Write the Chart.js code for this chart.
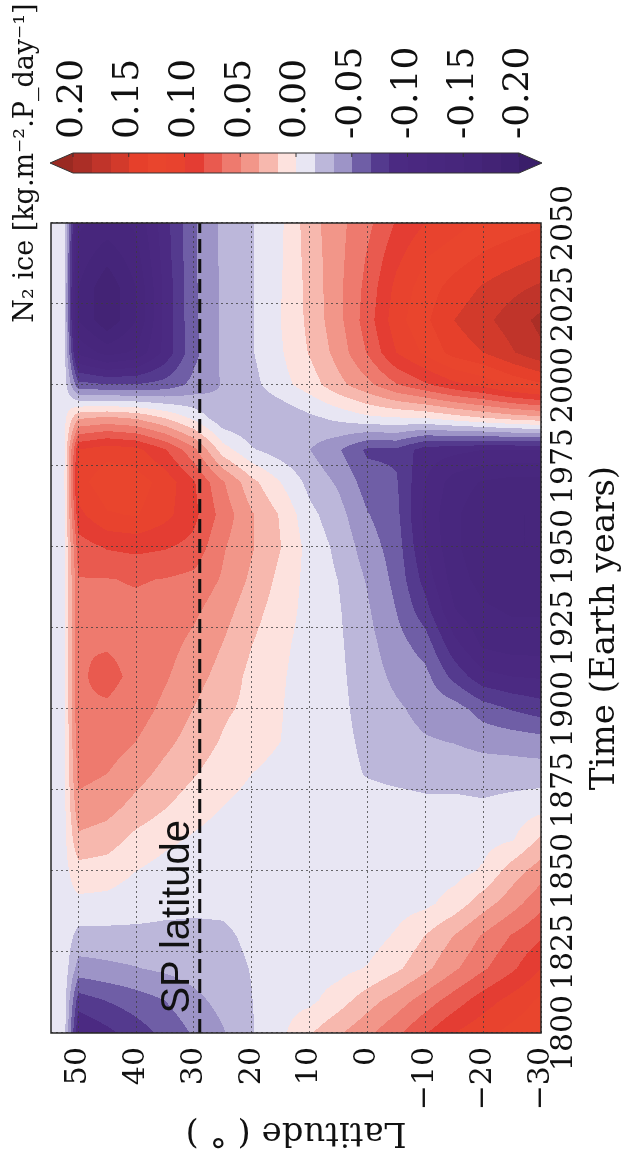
<!DOCTYPE html>
<html lang="en">
<head>
    <meta charset="UTF-8">
    <title>N2 ice</title>
    <script src="https://cdn.jsdelivr.net/npm/chart.js"></script>
    <style>
        html, body { margin: 0; padding: 0; background: #fff; overflow: hidden; }
        /* the figure is drawn landscape and turned a quarter turn to the left */
        #wrap {
            position: absolute; left: 0; top: 0; width: 1152px; height: 626px;
            transform-origin: 0 0; transform: translate(0, 1152px) rotate(-90deg);
        }
    </style>
</head>
<body>
<div id="wrap"><canvas id="diagram" width="1152" height="626"></canvas></div>
<script>
    // grid of the field: one row per latitude, one value per year
    const years = [1800, 1810, 1820, 1830, 1840, 1850, 1860, 1870, 1880, 1890, 1900, 1910, 1920,
                   1930, 1940, 1950, 1960, 1970, 1980, 1990, 2000, 2010, 2020, 2030, 2040, 2050];
    const lats = [55, 52.5, 50, 45, 40, 35, 30, 25, 20, 15, 10, 5, 0, -5, -10, -15, -20, -25, -30];

    const lat55 = [-0.005, -0.005, -0.005, -0.005, -0.005, -0.005, -0.005, -0.005, -0.005, -0.005, -0.005, -0.005, -0.005, -0.005, -0.005, -0.005, -0.005, -0.005, -0.005, -0.005, -0.005, -0.005, -0.005, -0.005, -0.005, -0.005];
    const lat52 = [-0.006, -0.006, -0.006, -0.006, -0.006, -0.006, -0.006, -0.006, -0.006, -0.006, -0.006, -0.006, -0.006, -0.006, -0.006, -0.006, -0.006, -0.006, -0.006, -0.006, -0.006, -0.006, -0.006, -0.006, -0.006, -0.006];
    const lat50 = [-0.100, -0.075, -0.040, -0.022, -0.004, 0.010, 0.030, 0.045, 0.055, 0.060, 0.065, 0.064, 0.066, 0.064, 0.066, 0.075, 0.095, 0.110, 0.100, 0.030, -0.060, -0.120, -0.150, -0.150, -0.140, -0.130];
    const lat45 = [-0.088, -0.066, -0.037, -0.022, -0.005, 0.008, 0.025, 0.040, 0.050, 0.058, 0.064, 0.072, 0.065, 0.062, 0.066, 0.085, 0.115, 0.128, 0.110, 0.035, -0.065, -0.140, -0.180, -0.180, -0.160, -0.140];
    const lat40 = [-0.075, -0.058, -0.034, -0.021, -0.009, 0.000, 0.012, 0.028, 0.040, 0.050, 0.058, 0.062, 0.062, 0.063, 0.068, 0.088, 0.118, 0.125, 0.105, 0.030, -0.065, -0.130, -0.150, -0.150, -0.140, -0.130];
    const lat35 = [-0.062, -0.050, -0.030, -0.021, -0.012, -0.006, 0.004, 0.018, 0.028, 0.038, 0.046, 0.052, 0.056, 0.060, 0.066, 0.085, 0.105, 0.110, 0.085, 0.015, -0.060, -0.095, -0.095, -0.095, -0.092, -0.090];
    const lat30 = [-0.048, -0.038, -0.026, -0.020, -0.014, -0.010, -0.002, 0.008, 0.018, 0.026, 0.033, 0.040, 0.046, 0.053, 0.062, 0.078, 0.088, 0.085, 0.055, -0.005, -0.045, -0.055, -0.053, -0.053, -0.052, -0.052];
    const lat25 = [-0.035, -0.028, -0.022, -0.019, -0.014, -0.012, -0.008, 0.000, 0.008, 0.015, 0.020, 0.027, 0.033, 0.040, 0.048, 0.052, 0.060, 0.052, 0.008, -0.030, -0.032, -0.030, -0.030, -0.030, -0.030, -0.030];
    const lat20 = [-0.018, -0.017, -0.016, -0.014, -0.012, -0.010, -0.009, -0.006, 0.000, 0.004, 0.012, 0.012, 0.017, 0.023, 0.030, 0.035, 0.035, 0.022, -0.015, -0.033, -0.022, -0.018, -0.018, -0.018, -0.018, -0.018];
    const lat15 = [-0.004, -0.006, -0.008, -0.009, -0.010, -0.008, -0.008, -0.006, -0.003, 0.000, 0.001, 0.002, 0.004, 0.008, 0.012, 0.017, 0.015, 0.000, -0.025, -0.030, -0.006, -0.002, 0.000, -0.001, -0.002, -0.003];
    const lat10 = [0.015, -0.004, -0.008, -0.008, -0.008, -0.008, -0.008, -0.008, -0.008, -0.009, -0.009, -0.008, -0.007, -0.006, -0.006, -0.006, -0.012, -0.022, -0.033, -0.020, 0.008, 0.018, 0.021, 0.022, 0.024, 0.026];
    const lat5 = [0.031, 0.009, -0.006, -0.008, -0.008, -0.008, -0.008, -0.008, -0.010, -0.011, -0.012, -0.013, -0.014, -0.015, -0.017, -0.021, -0.027, -0.036, -0.048, -0.012, 0.028, 0.040, 0.045, 0.046, 0.045, 0.045];
    const lat0 = [0.046, 0.026, 0.001, -0.008, -0.008, -0.008, -0.008, -0.008, -0.018, -0.021, -0.024, -0.026, -0.028, -0.031, -0.035, -0.042, -0.049, -0.058, -0.070, -0.003, 0.045, 0.068, 0.075, 0.072, 0.068, 0.062];
    const latS5 = [0.063, 0.041, 0.013, 0.002, -0.007, -0.008, -0.008, -0.009, -0.022, -0.028, -0.031, -0.037, -0.043, -0.050, -0.055, -0.058, -0.062, -0.065, -0.070, 0.000, 0.065, 0.100, 0.110, 0.105, 0.095, 0.085];
    const latS10 = [0.082, 0.058, 0.029, 0.017, -0.004, -0.008, -0.010, -0.012, -0.024, -0.032, -0.038, -0.045, -0.058, -0.076, -0.090, -0.100, -0.105, -0.100, -0.092, 0.002, 0.080, 0.120, 0.130, 0.125, 0.115, 0.100];
    const latS15 = [0.100, 0.075, 0.047, 0.034, 0.007, -0.006, -0.008, -0.012, -0.024, -0.034, -0.042, -0.072, -0.095, -0.115, -0.125, -0.130, -0.130, -0.125, -0.095, 0.010, 0.095, 0.140, 0.150, 0.140, 0.125, 0.110];
    const latS20 = [0.112, 0.092, 0.064, 0.052, 0.026, 0.002, -0.006, -0.014, -0.025, -0.038, -0.058, -0.095, -0.120, -0.130, -0.140, -0.145, -0.145, -0.135, -0.100, 0.018, 0.105, 0.150, 0.162, 0.152, 0.135, 0.120];
    const latS25 = [0.122, 0.106, 0.080, 0.068, 0.043, 0.025, -0.002, -0.010, -0.025, -0.040, -0.068, -0.100, -0.125, -0.135, -0.145, -0.150, -0.150, -0.140, -0.100, 0.025, 0.120, 0.165, 0.175, 0.162, 0.142, 0.125];
    const latS30 = [0.130, 0.120, 0.100, 0.081, 0.062, 0.042, 0.019, -0.006, -0.025, -0.043, -0.075, -0.102, -0.125, -0.135, -0.145, -0.150, -0.150, -0.140, -0.100, 0.030, 0.130, 0.180, 0.188, 0.170, 0.150, 0.130];

    const field = [lat55, lat52, lat50, lat45, lat40, lat35, lat30, lat25, lat20, lat15, lat10,
                   lat5, lat0, latS5, latS10, latS15, latS20, latS25, latS30];

    const spLatitude = 29;
    const cbarTicks = [0.20, 0.15, 0.10, 0.05, 0.00, -0.05, -0.10, -0.15, -0.20];
    const subLevels = 3;
    // fill colours, lowest level first
    const levelColors = [
        "#3f2172", "#432375", "#45257a", "#47267c", "#48277e", "#4a2880",
        "#4b2a82", "#543a8e", "#6f5ea6", "#9d94c7", "#bcb7da", "#e8e6f3",
        "#fde2de", "#f7b8ae", "#f29689", "#ee7a6e", "#e95a4f", "#e43d33",
        "#e8432e", "#e9452d", "#e6402b", "#d23a2b", "#c0342a", "#ab2e26"
    ];
    const underColor = "#3a1e6a";
    const overColor = "#9a2a22";

    const levels = [];
    const asc = cbarTicks.slice().sort((a, b) => a - b);
    for (let i = 0; i < asc.length - 1; i++) {
        for (let k = 0; k < subLevels; k++) levels.push(asc[i] + (asc[i + 1] - asc[i]) * k / subLevels);
    }
    levels.push(asc[asc.length - 1]);

    const serif = "'DejaVu Serif', serif";

    function hexRgb(c) {
        return [parseInt(c.slice(1, 3), 16), parseInt(c.slice(3, 5), 16), parseInt(c.slice(5, 7), 16)];
    }

    function sample(yr, lat) {
        let c = 0;
        while (c < years.length - 2 && years[c + 1] < yr) c++;
        let r = 0;
        while (r < lats.length - 2 && lats[r + 1] > lat) r++;
        const tx = Math.min(1, Math.max(0, (yr - years[c]) / (years[c + 1] - years[c])));
        const ty = Math.min(1, Math.max(0, (lats[r] - lat) / (lats[r] - lats[r + 1])));
        const a = field[r][c] * (1 - tx) + field[r][c + 1] * tx;
        const b = field[r + 1][c] * (1 - tx) + field[r + 1][c + 1] * tx;
        return a * (1 - ty) + b * ty;
    }

    function colorFor(v) {
        if (v < levels[0]) return underColor;
        if (v >= levels[levels.length - 1]) return overColor;
        let k = 0;
        while (v >= levels[k + 1]) k++;
        return levelColors[k];
    }

    const fieldPlugin = {
        id: 'field',
        beforeDraw(chart) {
            const {ctx, chartArea: area, scales: {x, y}} = chart;
            const w = Math.round(area.right - area.left);
            const h = Math.round(area.bottom - area.top);
            const off = document.createElement('canvas');
            off.width = w;
            off.height = h;
            const octx = off.getContext('2d');
            const img = octx.createImageData(w, h);
            const colYears = [];
            for (let i = 0; i < w; i++) colYears.push(x.getValueForPixel(area.left + i + 0.5));
            const cache = {};
            for (let j = 0; j < h; j++) {
                const lat = y.getValueForPixel(area.top + j + 0.5);
                for (let i = 0; i < w; i++) {
                    const col = colorFor(sample(colYears[i], lat));
                    const rgb = cache[col] || (cache[col] = hexRgb(col));
                    const p = (j * w + i) * 4;
                    img.data[p] = rgb[0];
                    img.data[p + 1] = rgb[1];
                    img.data[p + 2] = rgb[2];
                    img.data[p + 3] = 255;
                }
            }
            octx.putImageData(img, 0, 0);
            ctx.drawImage(off, area.left, area.top);
        },
        afterDraw(chart) {
            const {ctx, chartArea: area, scales: {x, y}} = chart;
            ctx.save();
            // frame
            ctx.strokeStyle = '#262626';
            ctx.lineWidth = 1.5;
            ctx.strokeRect(area.left, area.top, area.right - area.left, area.bottom - area.top);

            // SP latitude label
            ctx.fillStyle = '#111';
            ctx.font = "40px 'Liberation Sans', Arial, sans-serif";
            ctx.textAlign = 'left';
            ctx.textBaseline = 'alphabetic';
            ctx.fillText('SP latitude', x.getPixelForValue(1806), y.getPixelForValue(spLatitude) - 11);

            // colour bar
            const cbL = area.right + 50, cbW = 20;
            const cbT = area.top + 22, cbB = area.bottom - 22, tip = 23;
            const vmax = asc[asc.length - 1], vmin = asc[0];
            const py = v => cbT + (vmax - v) / (vmax - vmin) * (cbB - cbT);
            for (let k = 0; k < levelColors.length; k++) {
                const y0 = py(levels[k + 1]), y1 = py(levels[k]);
                ctx.fillStyle = levelColors[k];
                ctx.fillRect(cbL, Math.floor(y0), cbW, Math.ceil(y1) - Math.floor(y0));
            }
            ctx.fillStyle = overColor;
            ctx.beginPath();
            ctx.moveTo(cbL, cbT); ctx.lineTo(cbL + cbW / 2, cbT - tip); ctx.lineTo(cbL + cbW, cbT);
            ctx.closePath(); ctx.fill();
            ctx.fillStyle = underColor;
            ctx.beginPath();
            ctx.moveTo(cbL, cbB); ctx.lineTo(cbL + cbW / 2, cbB + tip); ctx.lineTo(cbL + cbW, cbB);
            ctx.closePath(); ctx.fill();
            ctx.strokeStyle = '#333';
            ctx.lineWidth = 1;
            ctx.beginPath();
            ctx.moveTo(cbL, cbT); ctx.lineTo(cbL + cbW / 2, cbT - tip); ctx.lineTo(cbL + cbW, cbT);
            ctx.lineTo(cbL + cbW, cbB); ctx.lineTo(cbL + cbW / 2, cbB + tip); ctx.lineTo(cbL, cbB);
            ctx.closePath(); ctx.stroke();

            ctx.fillStyle = '#111';
            ctx.font = '36px ' + serif;
            ctx.textBaseline = 'middle';
            cbarTicks.forEach(v => {
                const yy = py(v);
                ctx.beginPath();
                ctx.moveTo(cbL + cbW, yy);
                ctx.lineTo(cbL + cbW - 4, yy);
                ctx.stroke();
                ctx.fillText(v.toFixed(2), cbL + cbW + 14, yy);
            });

            ctx.font = '27px ' + serif;
            ctx.textAlign = 'center';
            ctx.textBaseline = 'alphabetic';
            ctx.fillText('N\u2082 ice [kg.m\u207B\u00B2.P_day\u207B\u00B9]', cbL + cbW / 2, 33);
            ctx.restore();
        }
    };

    const chart = new Chart("diagram", {
        type: "scatter",
        data: {
            datasets: [{
                label: "SP latitude",
                data: [{x: years[0], y: spLatitude}, {x: years[years.length - 1], y: spLatitude}],
                showLine: true,
                borderColor: "#111",
                borderWidth: 3,
                borderDash: [14, 6],
                pointRadius: 0,
                fill: false
            }]
        },
        options: {
            responsive: false,
            animation: false,
            layout: {padding: {top: 51, right: 223, bottom: 0, left: 0}},
            plugins: {
                legend: {display: false},
                tooltip: {enabled: false}
            },
            scales: {
                x: {
                    type: 'linear',
                    min: 1800,
                    max: 2050,
                    afterFit(scale) { scale.height = 85; },
                    ticks: {
                        stepSize: 25,
                        autoSkip: false,
                        maxRotation: 0,
                        padding: 5,
                        color: '#111',
                        font: {family: serif, size: 30},
                        callback: v => String(v)
                    },
                    grid: {color: 'rgba(60,60,60,0.75)', lineWidth: 1, drawTicks: false},
                    border: {display: false, dash: [2, 3]},
                    title: {
                        display: true,
                        text: 'Time (Earth years)',
                        color: '#111',
                        font: {family: serif, size: 34},
                        padding: {top: 0, bottom: 0}
                    }
                },
                y: {
                    type: 'linear',
                    min: -30,
                    max: 54.7,
                    afterFit(scale) { scale.width = 119; },
                    ticks: {
                        stepSize: 10,
                        includeBounds: false,
                        padding: 14,
                        color: '#111',
                        font: {family: serif, size: 30},
                        callback: v => v < 0 ? '\u2212' + Math.abs(v) : String(v)
                    },
                    grid: {color: 'rgba(60,60,60,0.75)', lineWidth: 1, drawTicks: false},
                    border: {display: false, dash: [2, 3]},
                    title: {
                        display: true,
                        text: 'Latitude ( \u00B0 )',
                        color: '#111',
                        font: {family: serif, size: 34},
                        padding: {top: 0, bottom: 0}
                    }
                }
            }
        },
        plugins: [fieldPlugin]
    });
</script>
</body>
</html>
